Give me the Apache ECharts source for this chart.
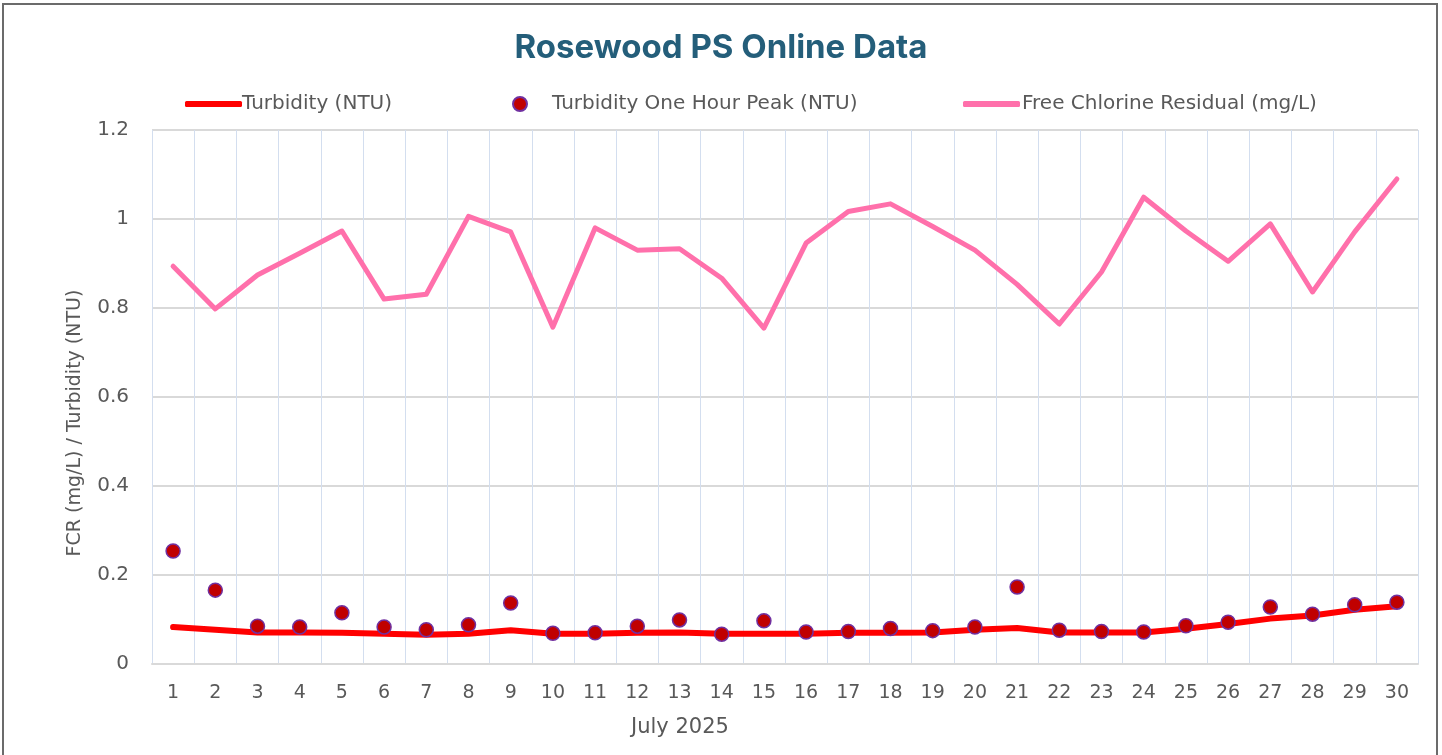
<!DOCTYPE html>
<html>
<head>
<meta charset="utf-8">
<script src="https://cdn.jsdelivr.net/npm/echarts@6/dist/echarts.min.js"></script>
<style>
html,body{margin:0;padding:0;background:#fff;}
#c{width:1442px;height:755px;}
</style>
</head>
<body>
<div id="c"></div>
<script>
const days = ['1','2','3','4','5','6','7','8','9','10','11','12','13','14','15','16','17','18','19','20','21','22','23','24','25','26','27','28','29','30'];
const turbidity = [0.083,0.077,0.071,0.071,0.070,0.068,0.066,0.068,0.076,0.068,0.068,0.070,0.071,0.068,0.068,0.068,0.070,0.070,0.071,0.077,0.081,0.071,0.071,0.071,0.079,0.090,0.102,0.109,0.122,0.130];
const turbidityPeak = [0.254,0.166,0.085,0.083,0.115,0.083,0.077,0.088,0.137,0.069,0.070,0.085,0.099,0.067,0.097,0.072,0.073,0.080,0.075,0.083,0.173,0.076,0.073,0.072,0.086,0.094,0.128,0.112,0.133,0.139];
const fcr = [0.894,0.798,0.874,0.923,0.973,0.820,0.831,1.006,0.971,0.757,0.980,0.930,0.933,0.867,0.755,0.946,1.017,1.034,0.983,0.930,0.853,0.764,0.881,1.049,0.973,0.905,0.989,0.836,0.971,1.090];
const yTicks = [0,0.2,0.4,0.6,0.8,1,1.2];

const chart = echarts.init(document.getElementById('c'), null, {renderer:'canvas'});
const font = 'DejaVu Sans, sans-serif';
chart.setOption({
  animation:false,
  backgroundColor:'#fff',
  title:[{
    text:'Rosewood PS Online Data',
    left:'center', top:27,
    textStyle:{fontFamily:'Inter, Open Sans, sans-serif', fontWeight:'bold', fontSize:33, color:'#245e7a'}
  },{
    text:'July 2025',
    left:626, top:712,
    textStyle:{fontFamily:font, fontWeight:'normal', fontSize:21, color:'#595959'}
  }],
  graphic:[{
    type:'rect', shape:{x:3,y:4,width:1434,height:760},
    style:{fill:'none', stroke:'#6b6b6b', lineWidth:2}, silent:true, z:100
  },{
    type:'text', x:75, y:423, rotation:Math.PI/2, silent:true,
    style:{text:'FCR (mg/L) / Turbidity (NTU)', fontFamily:font, fontSize:19, fill:'#595959', align:'center', verticalAlign:'middle'}
  }],
  legend:[
    {left:185, top:94, padding:0, itemWidth:57, itemHeight:6, icon:'roundRect', data:['Turbidity (NTU)'],
      textStyle:{fontFamily:font, fontSize:20, color:'#595959', padding:[0,0,0,-5]}},
    {left:512, top:94, padding:0, itemWidth:14, itemHeight:14, icon:'circle', data:['Turbidity One Hour Peak (NTU)'],
      textStyle:{fontFamily:font, fontSize:20, color:'#595959', padding:[0,0,0,20]}},
    {left:963, top:94, padding:0, itemWidth:57, itemHeight:6, icon:'roundRect', data:['Free Chlorine Residual (mg/L)'],
      textStyle:{fontFamily:font, fontSize:20, color:'#595959', padding:[0,0,0,-3]}}
  ],
  grid:{left:152, right:24, top:130, bottom:91, containLabel:false},
  xAxis:{
    type:'category', data:days, boundaryGap:true,
    axisLine:{show:true, lineStyle:{color:'#d9d9d9', width:2}},
    axisTick:{show:false},
    axisLabel:{fontFamily:font, fontSize:19, color:'#595959', margin:20, interval:0},
    splitLine:{show:true, interval:0, lineStyle:{color:'#d3deef', width:1}}
  },
  yAxis:{
    type:'value', min:0, max:1.2, interval:0.2,
    axisLine:{show:false}, axisTick:{show:false},
    axisLabel:{fontFamily:font, fontSize:20, color:'#595959', margin:23,
      formatter: v => { const t = yTicks.find(x => Math.abs(x - v) < 1e-9); return t === undefined ? '' : String(t); }},
    splitLine:{show:true, lineStyle:{color:'#d9d9d9', width:2}}
  },
  series:[
    {name:'Turbidity (NTU)', type:'line', data:turbidity, symbol:'none',
      lineStyle:{color:'#ff0000', width:6, cap:'round', join:'round'}, itemStyle:{color:'#ff0000'}, z:2},
    {name:'Turbidity One Hour Peak (NTU)', type:'scatter', data:turbidityPeak, symbol:'circle', symbolSize:14,
      itemStyle:{color:'#c00000', borderColor:'#7030a0', borderWidth:1.5, opacity:1}, z:3},
    {name:'Free Chlorine Residual (mg/L)', type:'line', data:fcr, symbol:'none',
      lineStyle:{color:'#ff70ab', width:5, cap:'round', join:'round'}, itemStyle:{color:'#ff70ab'}, z:2}
  ]
});
</script>
</body>
</html>
